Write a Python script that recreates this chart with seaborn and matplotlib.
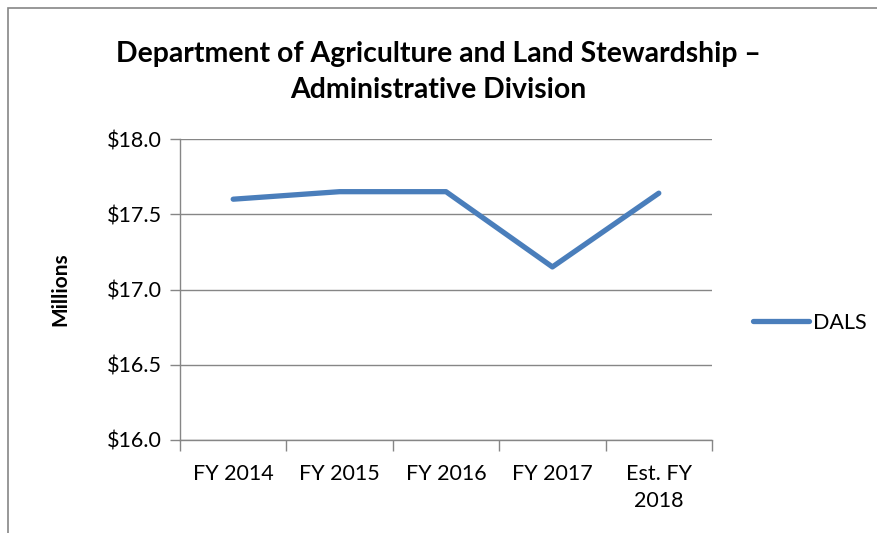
import matplotlib
matplotlib.use("Agg")
import matplotlib.pyplot as plt
import seaborn as sns
import pandas as pd
from matplotlib.patches import Rectangle
from matplotlib.ticker import FixedLocator, FuncFormatter

# 資料
categories = ["FY 2014", "FY 2015", "FY 2016", "FY 2017", "Est. FY\n2018"]
dals_values = [17.60, 17.65, 17.65, 17.15, 17.64]
y_ticks = [16.0, 16.5, 17.0, 17.5, 18.0]

df = pd.DataFrame({"Year": categories, "Value": dals_values, "Series": "DALS"})

sns.set_style("white")
plt.rcParams['font.family'] = ['Lato', 'DejaVu Sans']
plt.rcParams['text.color'] = 'black'

fig = plt.figure(figsize=(8.77, 5.33), dpi=100)
ax = fig.add_axes([180 / 877, 1 - 440 / 533, 532 / 877, 301 / 533])

sns.lineplot(data=df, x="Year", y="Value", hue="Series", palette=["#4A7EBB"],
             linewidth=3.8, ax=ax, sort=False, solid_capstyle="round")

ax.set_xlim(-0.5, len(categories) - 0.5)
ax.set_ylim(16.0, 18.0)
ax.set_yticks(y_ticks)
ax.yaxis.set_major_formatter(FuncFormatter(lambda v, p: f"${v:.1f}"))
ax.set_xticks(range(len(categories)))
ax.set_xticklabels(categories, linespacing=1.45)
ax.xaxis.set_minor_locator(FixedLocator([i - 0.5 for i in range(len(categories) + 1)]))

ax.tick_params(axis="x", which="major", length=0, pad=17, labelsize=15.5, labelcolor="black")
ax.tick_params(axis="x", which="minor", length=8, color="#868686", width=1, bottom=True)
ax.tick_params(axis="y", which="major", length=7, color="#868686", width=1, left=True,
               pad=6, labelsize=15.5, labelcolor="black")

ax.grid(axis="y", color="#868686", linewidth=1)
ax.set_axisbelow(True)
for s in ["top", "right"]:
    ax.spines[s].set_visible(False)
for s in ["left", "bottom"]:
    ax.spines[s].set_color("#868686")
    ax.spines[s].set_linewidth(1)

ax.set_xlabel("")
ax.set_ylabel("Millions", fontsize=15, fontweight="bold", labelpad=26, color="black")

leg = ax.legend(loc="center left", bbox_to_anchor=(1.04, 0.39), frameon=False,
                fontsize=15.5, handlelength=2.6, handletextpad=0.2)
for t in leg.get_texts():
    t.set_color("black")

fig.text(0.5, 1 - 72 / 533,
         "Department of Agriculture and Land Stewardship –\nAdministrative Division",
         ha="center", va="center", fontsize=20.4, fontweight="bold", linespacing=1.45)

# 外框
fig.patches.append(Rectangle((8 / 877, -0.1), 1.1, 1 - 8 / 533 + 0.1,
                             transform=fig.transFigure, fill=False,
                             edgecolor="#868686", linewidth=1.2))

fig.savefig("out.png", dpi=100)
